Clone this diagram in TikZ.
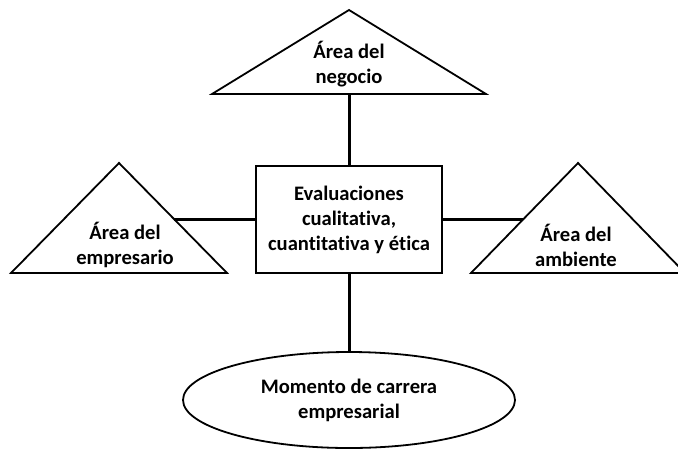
\documentclass[tikz,border=0pt]{standalone}
\usepackage{fontspec}
\setmainfont[Ligatures=NoCommon]{Carlito}
\usetikzlibrary{calc, shapes.geometric}

\begin{document}
\begin{tikzpicture}[x=0.5pt, y=-0.5pt,
    link/.style={line width=1.5pt},
    shapeline/.style={draw, line width=0.9pt, line join=miter},
    boxtext/.style={font=\bfseries\fontsize{10.3}{12.5}\selectfont, align=center, inner sep=0pt}]
  \useasboundingbox (0,0) rectangle (678,450);

  % Central evaluation box
  \node[shapeline, boxtext, minimum width=93pt, minimum height=53.5pt] (eval) at (349,219.5)
    {Evaluaciones\\cualitativa,\\cuantitativa y ética};

  % Business area (top)
  \coordinate (neg-apex) at (349,10);
  \coordinate (neg-l) at (212,94);
  \coordinate (neg-r) at (486,94);
  \draw[shapeline] (neg-apex) -- (neg-r) -- (neg-l) -- cycle;
  \node[boxtext] (neg) at (349,64) {Área del\\negocio};
  \coordinate (neg-base) at ($(neg-l)!0.5!(neg-r)$);

  % Entrepreneur area (left)
  \coordinate (emp-apex) at (119,163);
  \coordinate (emp-l) at (11,273);
  \coordinate (emp-r) at (227,273);
  \draw[shapeline] (emp-apex) -- (emp-r) -- (emp-l) -- cycle;
  \node[boxtext] (emp) at (125,245) {Área del\\empresario};
  \coordinate (emp-side) at ($(emp-apex)!0.51!(emp-r)$);

  % Environment area (right)
  \coordinate (amb-apex) at (578,163);
  \coordinate (amb-l) at (471,273);
  \coordinate (amb-r) at (685,273);
  \draw[shapeline] (amb-apex) -- (amb-r) -- (amb-l) -- cycle;
  \node[boxtext] (amb) at (576,245) {Área del\\ambiente};
  \coordinate (amb-side) at ($(amb-apex)!0.51!(amb-l)$);

  % Career moment (bottom)
  \node[shapeline, boxtext, ellipse, minimum width=166pt, minimum height=48pt] (mom) at (349,400)
    {Momento de carrera\\empresarial};

  % Connectors
  \draw[link] (neg-base) -- (eval.north);
  \draw[link] (emp-side) -- (eval.west |- emp-side);
  \draw[link] (eval.east |- amb-side) -- (amb-side);
  \draw[link] (eval.south) -- (mom.north);
\end{tikzpicture}
\end{document}
